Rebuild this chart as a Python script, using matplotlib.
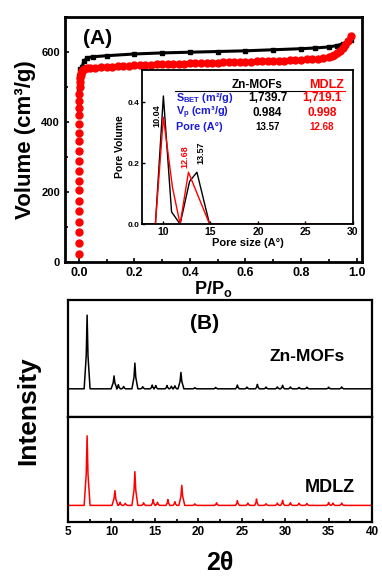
import numpy as np
import matplotlib
matplotlib.use('Agg')
import matplotlib.pyplot as plt
from matplotlib.ticker import MultipleLocator

plt.rcParams['font.family'] = ['Liberation Sans', 'DejaVu Sans']
plt.rcParams['font.weight'] = 'bold'
plt.rcParams['mathtext.fontset'] = 'custom'
plt.rcParams['mathtext.rm'] = 'Liberation Sans:bold'
plt.rcParams['mathtext.bf'] = 'Liberation Sans:bold'
plt.rcParams['mathtext.default'] = 'bf'

# --- (A) N2 isotherms ---
zn_p = [0.0005, 0.001, 0.002, 0.006, 0.01, 0.02, 0.03, 0.05, 0.1, 0.2, 0.3, 0.4, 0.5,
        0.6, 0.7, 0.8, 0.85, 0.9, 0.93, 0.95, 0.97, 0.98]
zn_v = [420, 495, 530, 550, 556, 575, 583, 586, 589, 594, 597, 599, 601,
        603, 606, 609, 611, 614, 618, 623, 630, 634]

mdlz_p = [0.0, 0.0, 0.0, 0.0, 0.0, 0.0, 0.0, 0.0, 0.0, 0.0, 0.0, 0.0, 0.0, 0.0,
          0.0005, 0.001, 0.0015, 0.002, 0.003, 0.004, 0.005, 0.007, 0.009, 0.012,
          0.016, 0.02, 0.03, 0.04, 0.06, 0.08, 0.10, 0.12, 0.14, 0.16, 0.18, 0.20,
          0.22, 0.24, 0.26, 0.28, 0.30, 0.32, 0.34, 0.36, 0.38, 0.40, 0.42, 0.44,
          0.46, 0.48, 0.50, 0.52, 0.54, 0.56, 0.58, 0.60, 0.62, 0.64, 0.66, 0.68,
          0.70, 0.72, 0.74, 0.76, 0.78, 0.80, 0.82, 0.84, 0.86, 0.88, 0.90, 0.91,
          0.92, 0.93, 0.94, 0.95, 0.96, 0.97, 0.98]
mdlz_v = [25, 55, 85, 115, 145, 175, 205, 232, 260, 290, 318, 345, 370, 395,
          420, 440, 460, 480, 500, 515, 525, 533, 540, 545,
          549, 551, 553, 554, 555, 556, 557, 558, 559, 560, 561, 562,
          562, 563, 563, 564, 564, 565, 565, 566, 566, 567, 567, 568,
          568, 569, 569, 570, 570, 571, 571, 572, 572, 573, 573, 574,
          574, 575, 575, 576, 577, 578, 579, 580, 581, 583, 586, 588,
          591, 596, 602, 610, 620, 632, 645]

# --- inset: pore size distribution ---
psd_zn_x = [7.8, 9.2, 10.04, 10.9, 11.8, 12.8, 13.57, 14.9, 30]
psd_zn_y = [0.0, 0.0, 0.42, 0.04, 0.0, 0.14, 0.17, 0.0, 0.0]
psd_md_x = [7.8, 9.2, 10.04, 11.0, 11.8, 12.68, 14.9, 30]
psd_md_y = [0.0, 0.0, 0.35, 0.12, 0.0, 0.17, 0.0, 0.0]

# --- (B) XRD peaks: position (2theta), apex height (a.u.) ---
zn_base = 240
zn_pos = [7.2, 10.3, 10.8, 11.4, 12.7, 13.6, 14.7, 15.1, 16.4, 16.9, 17.3, 18.0,
          19.6, 22.0, 24.5, 25.6, 26.8, 27.8, 29.1, 29.7, 30.6, 31.6, 32.5, 35.0, 36.5]
zn_hgt = [870, 350, 275, 260, 460, 258, 272, 268, 268, 262, 266, 380,
          250, 252, 272, 255, 278, 255, 256, 270, 256, 252, 254, 254, 256]
md_base = 160
md_pos = [7.2, 10.4, 11.0, 11.6, 12.7, 13.7, 14.8, 15.3, 16.5, 17.3, 18.1,
          19.6, 22.1, 24.5, 25.7, 26.7, 27.8, 29.1, 29.7, 30.6, 31.6, 32.5, 35.0, 35.5, 36.5]
md_hgt = [820, 300, 190, 180, 480, 185, 215, 190, 215, 195, 350,
          175, 185, 205, 182, 220, 176, 182, 208, 186, 180, 178, 188, 182, 182]


def peak_line(pos, hgt, base):
    xs, ys = [5], [base]
    for p, h in zip(pos, hgt):
        w = 0.34 if h - base > 60 else 0.22
        xs += [p - w, p - w * 0.3, p, p + w * 0.3, p + w]
        ys += [base, base + (h - base) * 0.45, h, base + (h - base) * 0.45, base]
    xs.append(40)
    ys.append(base)
    return xs, ys


def style_frame(ax, lw=1.6):
    for s in ax.spines.values():
        s.set_linewidth(lw)


fig = plt.figure(figsize=(3.82, 5.79), dpi=100)

axA = fig.add_axes([0.170, 0.547, 0.778, 0.424])
axA.plot(zn_p, zn_v, '-s', color='black', lw=2.2, ms=2.5, zorder=2)
axA.plot(mdlz_p, mdlz_v, 'o', color='red', ms=5, zorder=3)
axA.set_xlim(-0.05, 1.02)
axA.set_ylim(0, 700)
axA.xaxis.set_major_locator(MultipleLocator(0.2))
axA.xaxis.set_minor_locator(MultipleLocator(0.1))
axA.yaxis.set_major_locator(MultipleLocator(200))
axA.yaxis.set_minor_locator(MultipleLocator(100))
axA.tick_params(which='both', direction='in', width=1.2)
axA.tick_params(which='major', length=3, labelsize=9)
axA.tick_params(which='minor', length=2)
axA.tick_params(axis='y', labelsize=8)
axA.set_xlabel('P/P$_\\mathbf{o}$', fontsize=13, fontweight='bold', labelpad=0)
axA.set_ylabel('Volume (cm³/g)', fontsize=16, fontweight='bold', labelpad=4)
axA.text(0.11, 0.91, '(A)', transform=axA.transAxes, fontsize=15, fontweight='bold',
         ha='center', va='center')
style_frame(axA, 2)

axI = fig.add_axes([0.372, 0.613, 0.552, 0.266])
axI.plot(psd_zn_x, psd_zn_y, '-', color='black', lw=1)
axI.plot(psd_md_x, psd_md_y, '-', color='red', lw=1)
axI.set_xlim(7.8, 30)
axI.set_ylim(0, 0.505)
axI.xaxis.set_major_locator(MultipleLocator(5))
axI.yaxis.set_major_locator(MultipleLocator(0.2))
axI.tick_params(direction='in', length=2, width=1)
axI.tick_params(axis='x', labelsize=7.5, pad=2)
axI.tick_params(axis='y', labelsize=6, pad=2)
axI.set_xlabel('Pore size (A°)', fontsize=8, fontweight='bold', labelpad=1)
axI.set_ylabel('Pore Volume', fontsize=7.5, fontweight='bold', labelpad=2)
style_frame(axI, 1.3)
axI.text(9.4, 0.357, '10.04', rotation=90, fontsize=6.5, fontweight='bold',
         ha='center', va='center', color='black')
axI.text(12.35, 0.22, '12.68', rotation=90, fontsize=6.5, fontweight='bold',
         ha='center', va='center', color='red')
axI.text(14.0, 0.233, '13.57', rotation=90, fontsize=6.5, fontweight='bold',
         ha='center', va='center', color='black')

tr = axI.transAxes
blue = '#1a1adc'
axI.text(0.545, 0.905, 'Zn-MOFs', transform=tr, fontsize=8.5, fontweight='bold',
         ha='center', va='center')
axI.text(0.877, 0.905, 'MDLZ', transform=tr, fontsize=9, fontweight='bold',
         ha='center', va='center', color='red')
axI.plot([0.156, 0.775], [0.864, 0.864], color='black', lw=0.8, transform=tr)
axI.plot([0.775, 0.962], [0.864, 0.864], color='red', lw=0.8, transform=tr)
rows_lbl = ['S$_{BET}$ (m²/g)', 'V$_p$ (cm³/g)', 'Pore (A°)']
rows_zn = ['1,739.7', '0.984', '13.57']
rows_md = ['1,719.1', '0.998', '12.68']
rows_y = [0.818, 0.722, 0.630]
rows_fs = [8.5, 8.5, 7]
for lbl, vz, vm, yy, fs in zip(rows_lbl, rows_zn, rows_md, rows_y, rows_fs):
    axI.text(0.161, yy, lbl, transform=tr, fontsize=7.8, fontweight='bold',
             ha='left', va='center', color=blue)
    axI.text(0.595, yy, vz, transform=tr, fontsize=fs, fontweight='bold',
             ha='center', va='center')
    axI.text(0.853, yy, vm, transform=tr, fontsize=fs, fontweight='bold',
             ha='center', va='center', color='red')

# --- (B) XRD ---
axB1 = fig.add_axes([0.178, 0.280, 0.796, 0.202])
axB2 = fig.add_axes([0.178, 0.098, 0.796, 0.182], sharex=axB1)
zx, zy = peak_line(zn_pos, zn_hgt, zn_base)
mx, my = peak_line(md_pos, md_hgt, md_base)
axB1.plot(zx, zy, color='black', lw=1.1)
axB2.plot(mx, my, color='red', lw=1.1)
for ax in (axB1, axB2):
    ax.set_ylim(0, 1000)
    ax.set_yticks([])
    style_frame(ax, 1.6)
axB1.set_xlim(5, 40)
axB1.xaxis.set_major_locator(MultipleLocator(5))
axB1.xaxis.set_minor_locator(MultipleLocator(2.5))
axB1.tick_params(axis='x', which='both', bottom=False, labelbottom=False)
axB2.tick_params(axis='x', which='both', direction='in', width=1.2, labelsize=8.5, pad=3)
axB2.tick_params(axis='x', which='major', length=3)
axB2.tick_params(axis='x', which='minor', length=2)
axB1.text(0.45, 0.8, '(B)', transform=axB1.transAxes, fontsize=15, fontweight='bold',
          ha='center', va='center')
axB1.text(0.785, 0.52, 'Zn-MOFs', transform=axB1.transAxes, fontsize=12.5,
          fontweight='bold', ha='center', va='center')
axB2.text(0.86, 0.33, 'MDLZ', transform=axB2.transAxes, fontsize=13,
          fontweight='bold', ha='center', va='center')
axB2.set_xlabel('2θ', fontsize=18, fontweight='bold', labelpad=9)
fig.text(0.075, 0.29, 'Intensity', rotation=90, fontsize=19, fontweight='bold',
         ha='center', va='center')

fig.savefig('out.png', dpi=100)
